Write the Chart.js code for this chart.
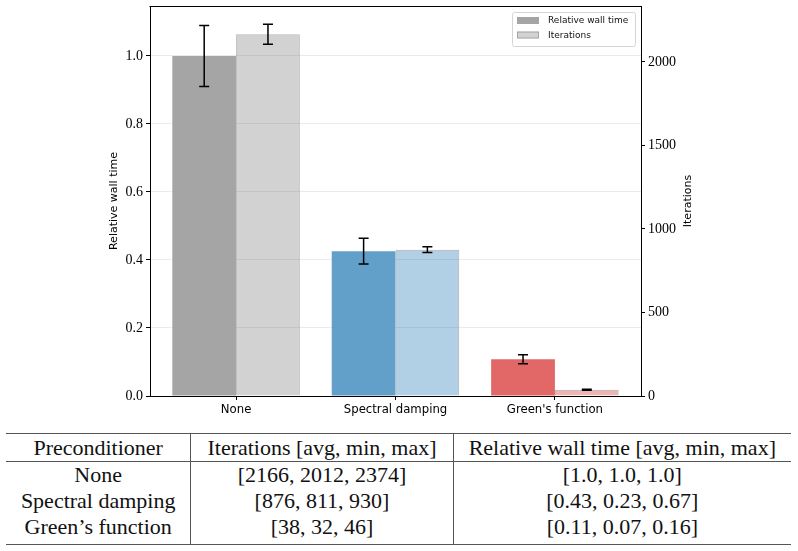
<!DOCTYPE html>
<html>
<head>
<meta charset="utf-8">
<script src="https://cdn.jsdelivr.net/npm/chart.js@4/dist/chart.umd.min.js"></script>
<style>
html,body{margin:0;padding:0;background:#fff;}
#wrap{position:relative;width:798px;height:551px;overflow:hidden;}
#c{position:absolute;left:0;top:0;}
table{position:absolute;left:6px;top:433px;width:785px;border-collapse:collapse;font-family:'Liberation Serif',serif;font-size:22px;color:#111;}
td,th{padding:0;text-align:center;font-weight:normal;white-space:nowrap;}
th{height:27px;line-height:27px;border-top:1.5px solid #555;border-bottom:1px solid #555;}
td{height:26px;line-height:26px;}
tr.last td{height:30px;line-height:26px;vertical-align:top;border-bottom:1.5px solid #555;}
.c2,.c3{border-left:1px solid #555;}
</style>
</head>
<body>
<div id="wrap">
<canvas id="c" width="798" height="425"></canvas>
<table id="tbl"></table>
</div>
<script>
// ---- data ----
const categories = ['None', 'Spectral damping', "Green's function"];
const wallTime = [1.0, 0.426, 0.108];
const wallTimeErr = [0.09, 0.038, 0.013];
const iterations = [2166, 876, 38];
const iterationsErr = [60, 17, 3];
const leftTicks = [0, 0.2, 0.4, 0.6, 0.8, 1.0];
const rightTicks = [0, 500, 1000, 1500, 2000];
const wallColors = ['#a5a5a5', '#62a0ca', '#e26868'];
const iterColors = ['rgba(127,127,127,0.35)', 'rgba(31,119,180,0.35)', 'rgba(214,39,40,0.35)'];

const tableHeader = ['Preconditioner', 'Iterations [avg, min, max]', 'Relative wall time [avg, min, max]'];
const tableNames = ['None', 'Spectral damping', 'Green\u2019s function'];
const tableIterations = [[2166, 2012, 2374], [876, 811, 930], [38, 32, 46]];
const tableWallTime = [[1.0, 1.0, 1.0], [0.43, 0.23, 0.67], [0.11, 0.07, 0.16]];

// ---- table ----
(function buildTable(){
  const t = document.getElementById('tbl');
  let h = '<tr>' + tableHeader.map((s,i)=>'<th class="c'+(i+1)+'">'+s+'</th>').join('') + '</tr>';
  const fmtW = v => Number.isInteger(v) ? v.toFixed(1) : String(v);
  tableNames.forEach((n,i)=>{
    h += '<tr' + (i===tableNames.length-1 ? ' class="last"' : '') + '>' +
      '<td class="c1">'+n+'</td>' +
      '<td class="c2">['+tableIterations[i].join(', ')+']</td>' +
      '<td class="c3">['+tableWallTime[i].map(fmtW).join(', ')+']</td></tr>';
  });
  t.innerHTML = h;
  const cols = t.rows[0].cells;
  cols[0].style.width='185px'; cols[1].style.width='262px'; cols[2].style.width='338px';
})();

// ---- chart ----
const extras = {
  id: 'extras',
  afterDatasetsDraw(chart) {
    const ctx = chart.ctx;
    chart.data.datasets.forEach((ds, di) => {
      const meta = chart.getDatasetMeta(di);
      const ys = chart.scales[meta.yAxisID];
      meta.data.forEach((bar, i) => {
        const v = ds.data[i].y, e = ds.errors[i];
        const yt = ys.getPixelForValue(v + e), yb = ys.getPixelForValue(v - e);
        ctx.save();
        ctx.strokeStyle = '#000'; ctx.lineWidth = 1.5;
        ctx.beginPath();
        ctx.moveTo(bar.x, yt); ctx.lineTo(bar.x, yb);
        ctx.moveTo(bar.x - 5, yt); ctx.lineTo(bar.x + 5, yt);
        ctx.moveTo(bar.x - 5, yb); ctx.lineTo(bar.x + 5, yb);
        ctx.stroke();
        ctx.restore();
      });
    });
  },
  afterDraw(chart) {
    const ctx = chart.ctx, a = chart.chartArea;
    ctx.save();
    // top spine
    ctx.strokeStyle = '#000'; ctx.lineWidth = 1;
    ctx.beginPath(); ctx.moveTo(a.left - 0.5, a.top + 0.5); ctx.lineTo(a.right + 0.5, a.top + 0.5); ctx.stroke();
    // right axis title (reads bottom-to-top)
    ctx.save();
    ctx.translate(a.right + 47, (a.top + a.bottom) / 2);
    ctx.rotate(-Math.PI / 2);
    ctx.font = '11px "DejaVu Sans"'; ctx.fillStyle = '#000';
    ctx.textAlign = 'center'; ctx.textBaseline = 'middle';
    ctx.fillText('Iterations', 0, 0);
    ctx.restore();
    // legend
    const lx = a.right - 129, ly = a.top + 6;
    ctx.fillStyle = 'rgba(255,255,255,0.8)';
    ctx.strokeStyle = '#d5d5d5'; ctx.lineWidth = 1;
    ctx.beginPath(); ctx.roundRect(lx + 0.5, ly + 0.5, 123, 34, 2); ctx.fill(); ctx.stroke();
    ctx.font = '9px "DejaVu Sans"'; ctx.textBaseline = 'middle'; ctx.textAlign = 'left';
    chart.data.datasets.forEach((ds, i) => {
      const y = ly + 5 + i * 14.5;
      ctx.fillStyle = ds.backgroundColor[0];
      ctx.fillRect(lx + 5, y, 22, 7);
      if (ds.borderWidth) { ctx.strokeStyle = ds.borderColor; ctx.strokeRect(lx + 5.5, y + 0.5, 21, 6); }
      ctx.fillStyle = '#111';
      ctx.fillText(ds.label, lx + 36, y + 4);
    });
    ctx.restore();
  }
};

new Chart(document.getElementById('c'), {
  type: 'bar',
  data: {
    datasets: [
      { label: 'Relative wall time', data: wallTime.map((v, i) => ({ x: i, y: v })), errors: wallTimeErr,
        yAxisID: 'y', stack: 'w', backgroundColor: wallColors, borderWidth: 0,
        categoryPercentage: 0.8, barPercentage: 1.0 },
      { label: 'Iterations', data: iterations.map((v, i) => ({ x: i, y: v })), errors: iterationsErr,
        yAxisID: 'y2', stack: 'it', backgroundColor: iterColors, borderColor: 'rgba(128,128,128,0.55)', borderWidth: 1,
        categoryPercentage: 0.8, barPercentage: 1.0 }
    ]
  },
  options: {
    responsive: false,
    animation: false,
    layout: { padding: { left: 104, right: 99, top: 6, bottom: 0 } },
    plugins: { legend: { display: false }, tooltip: { enabled: false } },
    scales: {
      x: {
        type: 'linear', min: -0.54, max: 2.54, offset: false,
        afterBuildTicks: s => { s.ticks = categories.map((c, i) => ({ value: i })); },
        ticks: { callback: v => categories[v], font: { family: 'DejaVu Sans', size: 11.7 }, color: '#000', padding: 3, autoSkip: false, maxRotation: 0 },
        grid: { offset: false, drawOnChartArea: false, drawTicks: true, tickLength: 4, tickColor: '#000' },
        border: { color: '#000', width: 1 },
        afterFit: s => { s.height = 29; s.paddingLeft = 0; s.paddingRight = 0; }
      },
      y: {
        position: 'left', min: 0, max: 1.147,
        afterBuildTicks: s => { s.ticks = leftTicks.map(v => ({ value: v })); },
        ticks: { callback: v => v.toFixed(1), font: { family: 'Liberation Serif', size: 14 }, color: '#000', padding: 3 },
        grid: { color: '#ebebeb', lineWidth: 1, tickLength: 4, tickColor: '#000' },
        border: { color: '#000', width: 1 },
        title: { display: true, text: 'Relative wall time', font: { family: 'DejaVu Sans', size: 11 }, color: '#000', padding: { top: 4, bottom: 4 } },
        afterFit: s => { s.width = 46; s.paddingTop = 0; s.paddingBottom = 0; }
      },
      y2: {
        position: 'right', min: 0, max: 2335,
        afterBuildTicks: s => { s.ticks = rightTicks.map(v => ({ value: v })); },
        ticks: { callback: v => String(v), font: { family: 'Liberation Serif', size: 14 }, color: '#000', padding: 3 },
        grid: { drawOnChartArea: false, tickLength: 4, tickColor: '#000' },
        border: { color: '#000', width: 1 },
        afterFit: s => { s.width = 58; s.paddingTop = 0; s.paddingBottom = 0; }
      }
    }
  },
  plugins: [extras]
});
</script>
</body>
</html>
